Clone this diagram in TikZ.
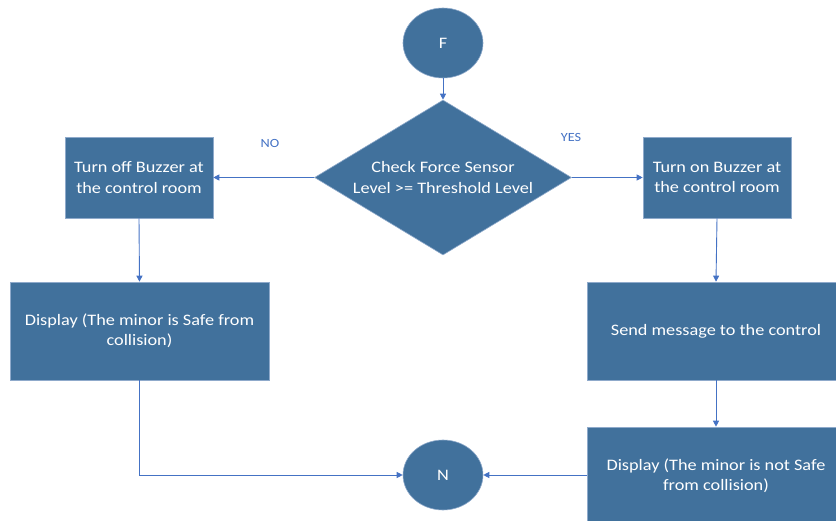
\documentclass[tikz,border=0pt]{standalone}
\usepackage{fontspec}
\setmainfont{Carlito}[FakeStretch=1.14]
\usetikzlibrary{arrows.meta,shapes.geometric}
\definecolor{shapefill}{HTML}{41719C}
\definecolor{shapeedge}{HTML}{8FAACB}
\definecolor{linkblue}{HTML}{4472C4}
\tikzset{
  box/.style={rectangle, fill=shapefill, draw=shapeedge, line width=0.6pt,
    text=white, font=\fontsize{16}{20.5}\selectfont, align=center, inner sep=0pt},
  term/.style={ellipse, fill=shapefill, draw=shapeedge, line width=0.6pt,
    text=white, font=\fontsize{16}{19}\selectfont, minimum width=80pt, minimum height=70pt, inner sep=0pt},
  decision/.style={diamond, aspect=1.66, fill=shapefill, draw=shapeedge, line width=0.6pt,
    text=white, font=\fontsize{16}{20.5}\selectfont, align=center,
    minimum width=257pt, minimum height=155pt, inner sep=0pt},
  link/.style={draw=linkblue, line width=0.9pt, -{Triangle[length=6pt,width=6pt]}},
  tag/.style={text=linkblue, font=\fontsize{12.5}{14}\selectfont}
}
\begin{document}
\begin{tikzpicture}[x=1pt,y=-1pt]
  \useasboundingbox (0,0) rectangle (836,521);

  % terminals
  \node[term] (start) at (443,43) {F};
  \node[term] (stop) at (443,475) {N};

  % decision
  \node[decision] (check) at (443,177.5) {Check Force Sensor\\Level >= Threshold Level};

  % left branch
  \node[box, minimum width=148pt, minimum height=81pt] (off) at (139,177.5) {Turn off Buzzer at\\the control room};
  \node[box, minimum width=259pt, minimum height=98pt] (safe) at (139.5,331) {Display (The minor is Safe from\\collision)};

  % right branch
  \node[box, minimum width=148pt, minimum height=81pt] (on) at (717,177.5) {Turn on Buzzer at\\the control room};
  \node[box, minimum width=258pt, minimum height=98pt] (send) at (716,331) {Send message to the control};
  \node[box, minimum width=258pt, minimum height=98pt] (unsafe) at (716,476) {Display (The minor is not Safe\\from collision)};

  % branch labels
  \node[tag] (no) at (270,143) {NO};
  \node[tag] (yes) at (571,137) {YES};

  % connectors
  \draw[link] (start.south) -- (check.north);
  \draw[link] (check.west) -- (off.east);
  \draw[link] (check.east) -- (on.west);
  \draw[link] (off.south) -- (safe.north);
  \draw[link] (on.south) -- (send.north);
  \draw[link] (send.south) -- (unsafe.north);
  \draw[link] (safe.south) |- (stop.west);
  \draw[link] (unsafe.west |- stop.east) -- (stop.east);
\end{tikzpicture}
\end{document}
